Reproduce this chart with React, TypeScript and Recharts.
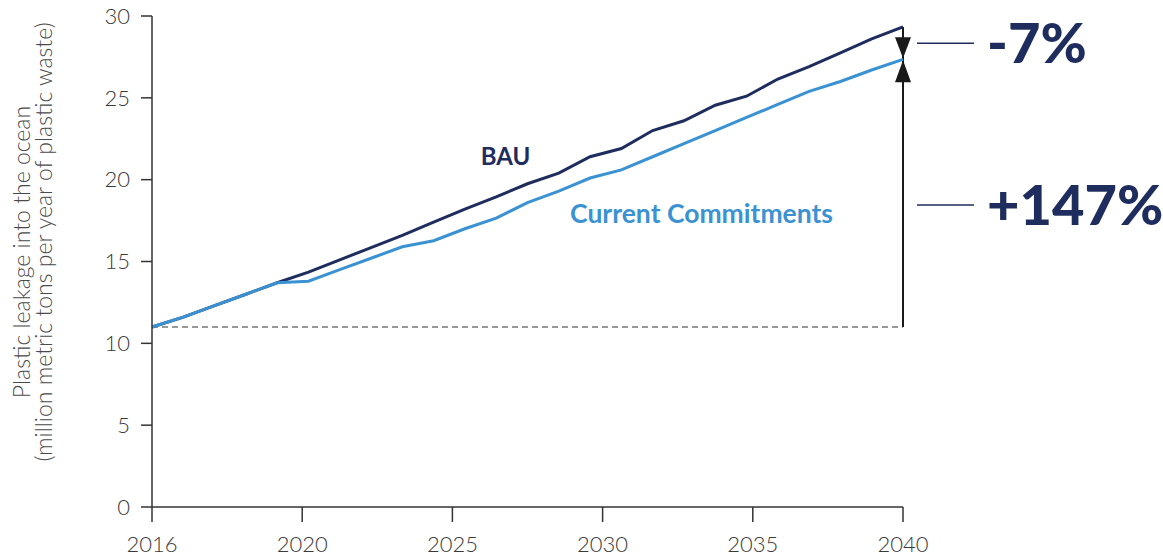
import { Line, LineChart, ReferenceDot, ReferenceLine, XAxis, YAxis } from "recharts";

const YEARS = [2016, 2017, 2018, 2019, 2020, 2021, 2022, 2023, 2024, 2025, 2026, 2027, 2028, 2029, 2030, 2031, 2032, 2033, 2034, 2035, 2036, 2037, 2038, 2039, 2040];
const BAU = [11.0, 11.6, 12.3, 13.0, 13.7, 14.35, 15.1, 15.85, 16.6, 17.4, 18.2, 18.95, 19.75, 20.4, 21.4, 21.9, 23.0, 23.6, 24.55, 25.1, 26.15, 26.9, 27.75, 28.6, 29.33];
const CURRENT = [11.0, 11.6, 12.3, 13.0, 13.7, 13.8, 14.5, 15.2, 15.9, 16.27, 17.0, 17.65, 18.6, 19.3, 20.1, 20.6, 21.4, 22.2, 23.0, 23.8, 24.6, 25.4, 26.0, 26.7, 27.35];

// the printed year labels sit at even fifths of the axis, not on the data years
const X_TICK_LABELS = ["2016", "2020", "2025", "2030", "2035", "2040"];
const Y_TICKS = [0, 5, 10, 15, 20, 25, 30];

const BASELINE = 11.0;
const CHANGE_LABEL = "-7%";
const GROWTH_LABEL = "+147%";
const GROWTH_LABEL_Y = 18.45;

const NAVY = "#1f2d5e";
const BLUE = "#3b92d3";
const INK = "#3a3a3a";
const FONT = "Lato, 'Open Sans', sans-serif";

const data = YEARS.map((year, i) => ({ year, bau: BAU[i], current: CURRENT[i] }));

const firstYear = YEARS[0];
const lastYear = YEARS[YEARS.length - 1];
const bauEnd = BAU[BAU.length - 1];
const currentEnd = CURRENT[CURRENT.length - 1];
const xTicks = X_TICK_LABELS.map((_, i) => firstYear + ((lastYear - firstYear) * i) / (X_TICK_LABELS.length - 1));

function AxisTitle() {
  return (
    <g fill="#4a4a4a" fontFamily={FONT} fontWeight={300} fontSize={23}>
      <text transform="translate(30, 252) rotate(-90)" textAnchor="middle">
        Plastic leakage into the ocean
      </text>
      <text transform="translate(52, 242) rotate(-90)" textAnchor="middle">
        (million metric tons per year of plastic waste)
      </text>
    </g>
  );
}

function Arrowheads({ cx, cy }: { cx?: number; cy?: number }) {
  if (cx == null || cy == null) return null;
  return (
    <g fill="#1a1a1a">
      <polygon points={`${cx - 8},${cy - 22} ${cx + 8},${cy - 22} ${cx},${cy - 1}`} />
      <polygon points={`${cx - 8},${cy + 23} ${cx + 8},${cy + 23} ${cx},${cy + 1}`} />
    </g>
  );
}

function SideLabel(text: string) {
  return ({ cx, cy }: { cx?: number; cy?: number }) => {
    if (cx == null || cy == null) return null;
    return (
      <g>
        <line x1={cx + 14} x2={cx + 71} y1={cy} y2={cy} stroke={NAVY} strokeWidth={1.5} />
        <text x={cx + 84} y={cy} dy="0.36em" fill={NAVY} fontFamily={FONT} fontWeight={900} fontSize={56}>
          {text}
        </text>
      </g>
    );
  };
}

function SeriesLabel(text: string, color: string, anchor: "start" | "middle", size: number) {
  return ({ cx, cy }: { cx?: number; cy?: number }) => {
    if (cx == null || cy == null) return null;
    return (
      <text x={cx} y={cy} dy="0.36em" textAnchor={anchor} fill={color} fontFamily={FONT} fontWeight={700} fontSize={size}>
        {text}
      </text>
    );
  };
}

export default function App() {
  return (
    <div style={{ position: "absolute", left: 0, top: 0, background: "#fff" }}>
      <LineChart width={1163} height={558} data={data} margin={{ top: 16, right: 260, bottom: 0, left: 0 }}>
        <XAxis
          dataKey="year"
          type="number"
          domain={[firstYear, lastYear]}
          ticks={xTicks}
          tickFormatter={(_v: number, i: number) => X_TICK_LABELS[i]}
          height={51}
          tickSize={15}
          tickMargin={14}
          interval={0}
          axisLine={{ stroke: "#333", strokeWidth: 1.5 }}
          tickLine={{ stroke: "#333", strokeWidth: 1.5 }}
          tick={{ fill: INK, fontSize: 22, fontFamily: FONT, fontWeight: 300 }}
        />
        <YAxis
          domain={[0, 30]}
          ticks={Y_TICKS}
          width={152}
          tickSize={11}
          tickMargin={11}
          axisLine={{ stroke: "#333", strokeWidth: 1.5 }}
          tickLine={{ stroke: "#333", strokeWidth: 1.5 }}
          tick={{ fill: INK, fontSize: 22, fontFamily: FONT, fontWeight: 300 }}
          label={{ content: () => <AxisTitle /> }}
        />
        <ReferenceLine y={BASELINE} stroke="#777" strokeWidth={1.5} strokeDasharray="6 4" />
        <ReferenceLine
          segment={[
            { x: lastYear, y: BASELINE },
            { x: lastYear, y: bauEnd },
          ]}
          stroke="#1a1a1a"
          strokeWidth={2}
        />
        <Line dataKey="bau" stroke={NAVY} strokeWidth={3} dot={false} isAnimationActive={false} />
        <Line dataKey="current" stroke={BLUE} strokeWidth={3} dot={false} isAnimationActive={false} />
        <ReferenceDot x={lastYear} y={currentEnd} r={0} shape={Arrowheads} />
        <ReferenceDot x={lastYear} y={(bauEnd + currentEnd) / 2} r={0} shape={SideLabel(CHANGE_LABEL)} />
        <ReferenceDot x={lastYear} y={GROWTH_LABEL_Y} r={0} shape={SideLabel(GROWTH_LABEL)} />
        <ReferenceDot x={2027.3} y={21.4} r={0} shape={SeriesLabel("BAU", NAVY, "middle", 24)} />
        <ReferenceDot x={2029.36} y={17.96} r={0} shape={SeriesLabel("Current Commitments", BLUE, "start", 26.5)} />
      </LineChart>
    </div>
  );
}
